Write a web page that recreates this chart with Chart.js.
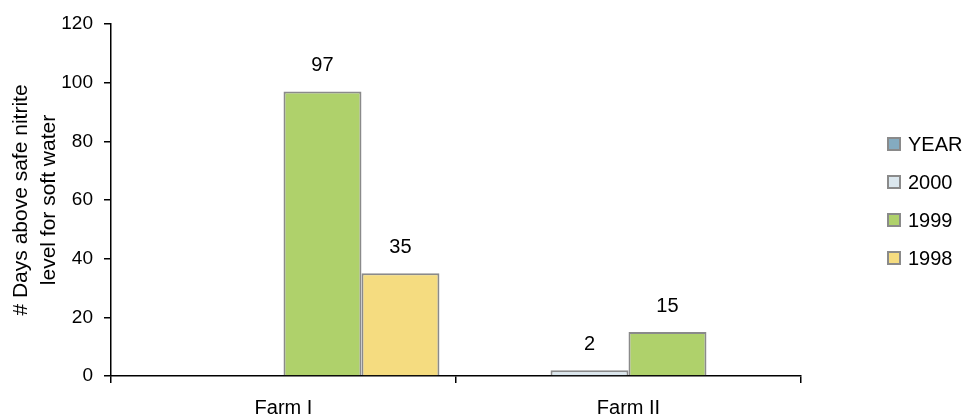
<!DOCTYPE html>
<html>
<head>
<meta charset="utf-8">
<script src="https://cdn.jsdelivr.net/npm/chart.js@4.4.1/dist/chart.umd.min.js"></script>
<style>
  html, body { margin: 0; padding: 0; background: #fff; }
  #wrap { width: 969px; height: 416px; position: relative; }
</style>
</head>
<body>
<div id="wrap"><canvas id="chart"></canvas></div>
<script>
// data
const farms = ['Farm I', 'Farm II'];
const seriesNames = ['YEAR', '2000', '1999', '1998'];
const valuesYear = [null, null];
const values2000 = [null, 2];
const values1999 = [97, 15];
const values1998 = [35, null];
const yTicks = [0, 20, 40, 60, 80, 100, 120];
const seriesColors = ['#84abc0', '#dbe7ee', '#afd16b', '#f5dc80'];

const FONT = "'Liberation Sans', Arial, sans-serif";
const EDGE = '#8a8a8a';

// value labels above bars
const barLabels = {
  id: 'barLabels',
  afterDatasetsDraw(chart) {
    const ctx = chart.ctx;
    ctx.save();
    ctx.font = '20px ' + FONT;
    ctx.fillStyle = '#000';
    ctx.textAlign = 'center';
    ctx.textBaseline = 'middle';
    chart.data.datasets.forEach((ds, i) => {
      chart.getDatasetMeta(i).data.forEach((bar, j) => {
        const v = ds.data[j];
        if (v == null) return;
        ctx.fillText(String(v), bar.x, bar.y - 26);
      });
    });
    ctx.restore();
  }
};

// excel-like legend on the right
const sideLegend = {
  id: 'sideLegend',
  afterDraw(chart) {
    const ctx = chart.ctx;
    ctx.save();
    ctx.font = '20px ' + FONT;
    ctx.textBaseline = 'middle';
    ctx.textAlign = 'left';
    chart.data.datasets.forEach((ds, i) => {
      const y = 144 + i * 38;
      ctx.fillStyle = ds.backgroundColor;
      ctx.fillRect(888, y - 6, 12, 12);
      ctx.strokeStyle = EDGE;
      ctx.lineWidth = 2;
      ctx.strokeRect(888, y - 6, 12, 12);
      ctx.fillStyle = '#000';
      ctx.fillText(ds.label, 908, y + 1);
    });
    ctx.restore();
  }
};

const allValues = [valuesYear, values2000, values1999, values1998];

new Chart(document.getElementById('chart'), {
  type: 'bar',
  data: {
    labels: farms,
    datasets: seriesNames.map((name, i) => ({
      label: name,
      data: allValues[i],
      backgroundColor: seriesColors[i],
      borderColor: EDGE,
      borderWidth: 2,
      borderSkipped: 'start',
      categoryPercentage: 0.904,
      barPercentage: 1.0
    }))
  },
  options: {
    responsive: true,
    maintainAspectRatio: false,
    animation: false,
    layout: { padding: { left: 0, right: 168, top: 24, bottom: 0 } },
    plugins: {
      legend: { display: false },
      tooltip: { enabled: false }
    },
    scales: {
      x: {
        offset: true,
        grid: { display: true, offset: true, drawOnChartArea: false, tickLength: 7, color: '#000', lineWidth: 1.5 },
        border: { display: true, color: '#000', width: 1.5 },
        ticks: { font: { family: FONT, size: 20 }, color: '#000', padding: 13 },
        afterFit(scale) { scale.height = 40; }
      },
      y: {
        min: 0,
        max: 120,
        afterBuildTicks(scale) { scale.ticks = yTicks.map(v => ({ value: v })); },
        grid: { display: true, drawOnChartArea: false, tickLength: 7, color: '#000', lineWidth: 1.5 },
        border: { display: true, color: '#000', width: 1.5 },
        ticks: { font: { family: FONT, size: 19 }, color: '#000', padding: 11 },
        title: {
          display: true,
          text: ['# Days above safe nitrite', 'level for soft water'],
          font: { family: FONT, size: 21, lineHeight: 1.34 },
          color: '#000',
          padding: { top: 7, bottom: 0 }
        },
        afterFit(scale) { scale.width = 111; }
      }
    }
  },
  plugins: [barLabels, sideLegend]
});
</script>
</body>
</html>
